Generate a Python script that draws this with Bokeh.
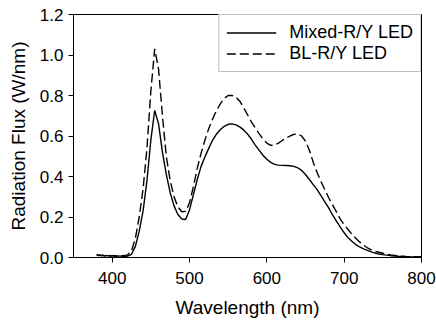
from bokeh.plotting import figure
from bokeh.models import FixedTicker, PrintfTickFormatter, Range1d, Legend, LegendItem
from bokeh.embed import file_html
from bokeh.resources import INLINE

# Wavelength (nm)
wavelength = ([380, 382, 384, 386, 388, 390, 392, 394, 396, 398, 400,
               402, 404, 406, 408, 410, 412, 414, 416, 418, 420]
              + list(range(425, 751, 5))
              + [760, 770, 780, 790, 800])

# Mixed-R/Y LED (W/nm)
mixed = [0.014, 0.009, 0.012, 0.008, 0.011, 0.007, 0.010, 0.008, 0.009, 0.006, 0.009,
         0.007, 0.008, 0.006, 0.008, 0.007, 0.007, 0.006, 0.007, 0.006, 0.007,
         0.016, 0.055, 0.13, 0.23, 0.38, 0.58, 0.726, 0.66, 0.52, 0.41,
         0.32, 0.255, 0.212, 0.19, 0.188, 0.235, 0.31, 0.385, 0.45, 0.497,
         0.54, 0.58, 0.61, 0.632, 0.648, 0.658, 0.66, 0.655, 0.645, 0.63,
         0.61, 0.585, 0.555, 0.53, 0.505, 0.485, 0.47, 0.46, 0.456, 0.455,
         0.454, 0.453, 0.45, 0.443, 0.43, 0.41, 0.385, 0.36, 0.335, 0.305,
         0.275, 0.245, 0.21, 0.18, 0.15, 0.122, 0.098, 0.08, 0.064, 0.052,
         0.043, 0.035, 0.028, 0.022, 0.017, 0.014,
         0.009, 0.006, 0.004, 0.003, 0.003]

# BL-R/Y LED (W/nm)
bl = [0.016, 0.010, 0.013, 0.009, 0.012, 0.008, 0.011, 0.009, 0.010, 0.008, 0.010,
      0.008, 0.009, 0.008, 0.009, 0.008, 0.009, 0.009, 0.010, 0.011, 0.013,
      0.032, 0.095, 0.20, 0.34, 0.54, 0.82, 1.03, 0.93, 0.70, 0.50,
      0.38, 0.30, 0.25, 0.226, 0.228, 0.27, 0.35, 0.44, 0.515, 0.58,
      0.638, 0.685, 0.726, 0.76, 0.786, 0.80, 0.80, 0.792, 0.772, 0.74,
      0.705, 0.67, 0.64, 0.612, 0.585, 0.565, 0.554, 0.555, 0.565, 0.578,
      0.59, 0.60, 0.608, 0.61, 0.60, 0.575, 0.53, 0.47, 0.42, 0.375,
      0.335, 0.295, 0.26, 0.225, 0.19, 0.162, 0.138, 0.115, 0.095, 0.077,
      0.061, 0.048, 0.038, 0.031, 0.026, 0.021,
      0.013, 0.008, 0.005, 0.004, 0.003]

x_ticks = [400, 500, 600, 700, 800]
y_ticks = [0.0, 0.2, 0.4, 0.6, 0.8, 1.0, 1.2]
series_labels = ["Mixed-R/Y LED", "BL-R/Y LED"]

FONT = "Liberation Sans"

p = figure(frame_width=348, frame_height=243,
           x_range=Range1d(350, 800), y_range=Range1d(0, 1.2),
           output_backend="svg", toolbar_location=None,
           min_border_left=73, min_border_right=15,
           min_border_top=14, min_border_bottom=65)

p.grid.visible = False
p.outline_line_color = "black"
p.outline_line_width = 1
p.background_fill_color = "white"
p.border_fill_color = "white"

r1 = p.line(wavelength, mixed, line_color="black", line_width=1.4)
r2 = p.line(wavelength, bl, line_color="black", line_width=1.4, line_dash="9 4")

p.xaxis.ticker = FixedTicker(ticks=x_ticks)
p.yaxis.ticker = FixedTicker(ticks=y_ticks)
p.yaxis.formatter = PrintfTickFormatter(format="%.1f")

for ax in (p.xaxis, p.yaxis):
    ax.axis_line_color = "black"
    ax.axis_line_width = 1
    ax.major_tick_line_color = "black"
    ax.major_tick_in = 0
    ax.major_tick_out = 5
    ax.minor_tick_line_color = None
    ax.major_label_text_font = FONT
    ax.major_label_text_font_size = "17px"
    ax.major_label_text_color = "black"
    ax.axis_label_text_font = FONT
    ax.axis_label_text_font_size = "19px"
    ax.axis_label_text_font_style = "normal"
    ax.axis_label_text_color = "black"

p.xaxis.axis_label = "Wavelength (nm)"
p.yaxis.axis_label = "Radiation Flux (W/nm)"
p.xaxis.major_label_standoff = 9
p.xaxis.axis_label_standoff = 10
p.yaxis.major_label_standoff = 5
p.yaxis.axis_label_standoff = 8

legend = Legend(items=[LegendItem(label=series_labels[0], renderers=[r1]),
                       LegendItem(label=series_labels[1], renderers=[r2])],
                location="top_right", margin=0, padding=7, spacing=0,
                label_height=21, glyph_height=21, glyph_width=50,
                label_standoff=13,
                label_text_font=FONT, label_text_font_size="18px",
                label_text_color="black",
                border_line_color="#808080", border_line_width=1,
                background_fill_color="white", background_fill_alpha=1)
p.add_layout(legend)

open("out.html", "w").write(file_html(p, INLINE))
